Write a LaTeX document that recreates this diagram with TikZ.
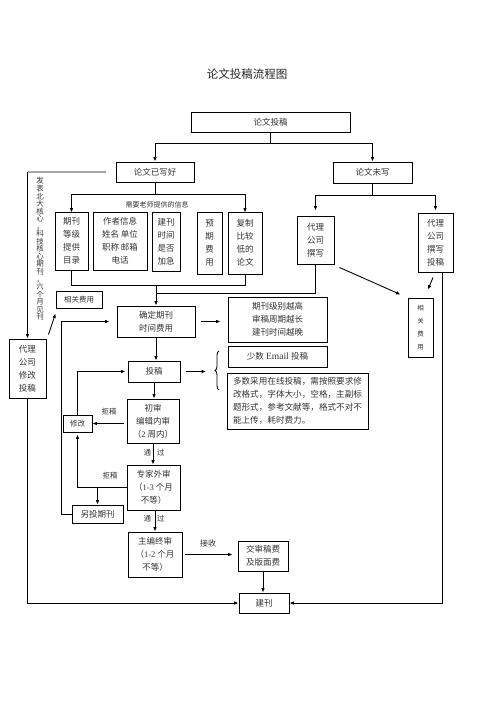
\documentclass[tikz,border=0pt]{standalone}
\usepackage{fontspec}
\setmainfont{Noto Sans CJK SC}
\newfontfamily\latf{Liberation Serif}
\usetikzlibrary{arrows.meta,decorations.pathreplacing}
\begin{document}
\begin{tikzpicture}[x=1pt,y=-1pt,line width=0.9pt,
  box/.style={draw, inner sep=0pt, align=center, text=black!80, font=\fontsize{8.5}{13}\selectfont},
  sbox/.style={box, font=\fontsize{7.5}{9}\selectfont},
  lbl/.style={inner sep=0pt, text=black!80, font=\fontsize{7.5}{9}\selectfont},
  arr/.style={-{Latex[length=4.5pt,width=3.6pt]}}
]
\useasboundingbox (0,0) rectangle (496,702);

% title
\node[text=black!85, font=\fontsize{11.5}{14}\selectfont] (title) at (247,74) {论文投稿流程图};

% nodes
\node[box, minimum width=159, minimum height=20] (tg) at (270.5,122) {论文投稿};
\node[box, minimum width=78, minimum height=20] (yx) at (155,172) {论文已写好};
\node[box, minimum width=79, minimum height=21] (wx) at (372.5,172.5) {论文未写};

\node[lbl, font=\fontsize{7}{9}\selectfont] (need) at (157,205) {需要老师提供的信息};

\node[box, minimum width=33, minimum height=58] (b1) at (71.5,241) {期刊\\等级\\提供\\目录};
\node[box, minimum width=54, minimum height=58] (b2) at (120,241) {作者信息\\姓名 单位\\职称 邮箱\\电话};
\node[box, minimum width=28, minimum height=59] (b3) at (166,241.5) {建刊\\时间\\是否\\加急};
\node[box, minimum width=25, minimum height=62] (b4) at (209.5,243) {预\\期\\费\\用};
\node[box, minimum width=34, minimum height=62] (b5) at (245,243) {复制\\比较\\低的\\论文};

\node[box, minimum width=37, minimum height=48] (w1) at (315.5,240) {代理\\公司\\撰写};
\node[box, minimum width=35, minimum height=59] (w2) at (435.5,242.5) {代理\\公司\\撰写\\投稿};
\node[box, minimum width=25, minimum height=59, font=\fontsize{6.5}{13}\selectfont] (fy2) at (420.5,327.5) {相\\关\\费\\用};

\node[sbox, minimum width=46, minimum height=17] (fy1) at (79,299.5) {相关费用};
\node[box, minimum width=78, minimum height=31] (qd) at (156,321.5) {确定期刊\\时间费用};
\node[box, minimum width=99, minimum height=45] (jb) at (277.5,319.5) {期刊级别越高\\审稿周期越长\\建刊时间越晚};
\node[box, minimum width=99, minimum height=21] (em) at (277.5,356.5) {少数{\latf\fontsize{9.5}{12}\selectfont\ Email }投稿};
\node[box, minimum width=141, minimum height=56, align=left, font=\fontsize{8.6}{12.8}\selectfont] (ds) at (297.5,401)
  {多数采用在线投稿，需按照要求修\\改格式，字体大小，空格，主副标\\题形式，参考文献等，格式不对不\\能上传，耗时费力。};

\node[box, minimum width=52, minimum height=21] (tgo) at (154,371.5) {投稿};
\node[box, minimum width=52, minimum height=44] (cs) at (153,421) {初审\\编辑内审\\（{\latf 2} 周内）};
\node[sbox, minimum width=29, minimum height=17] (xg) at (77.5,423.5) {修改};
\node[box, minimum width=53, minimum height=45] (zj) at (153.5,487.5) {专家外审\\（{\latf 1-3} 个月\\不等）};
\node[box, minimum width=51, minimum height=18] (lt) at (97.5,514) {另投期刊};
\node[box, minimum width=54, minimum height=45] (zb) at (155,554.5) {主编终审\\（{\latf 1-2} 个月\\不等）};
\node[box, minimum width=50, minimum height=30] (jf) at (263,556) {交审稿费\\及版面费};
\node[box, minimum width=50, minimum height=20] (jk) at (264,603) {建刊};

\node[box, minimum width=37, minimum height=59] (dl) at (27.5,368.5) {代理\\公司\\修改\\投稿};

\node[lbl, align=center, font=\fontsize{7.5}{7.55}\selectfont] (vt) at (40,249)
  {发\\表\\北\\大\\核\\心\\，\\科\\技\\核\\心\\期\\刊\\，\\六\\个\\月\\见\\刊};

% labels
\node[lbl] (rj1) at (109,412) {拒稿};
\node[lbl] (rj2) at (110,476) {拒稿};
\node[lbl] (tg1) at (154,453) {通\hspace{6pt}过};
\node[lbl] (tg2) at (154,519) {通\hspace{6pt}过};
\node[lbl, font=\fontsize{8}{10}\selectfont] (js) at (208,543) {接收};

% connectors top
\coordinate (r1) at (0,143);
\draw (tg.south) -- (tg.south |- r1);
\draw (yx.north |- r1) -- (wx.north |- r1);
\draw[arr] (yx.north |- r1) -- (yx.north);
\draw[arr] (wx.north |- r1) -- (wx.north);

\coordinate (r2) at (0,194);
\draw (yx.south) -- (yx.south |- r2);
\draw (b1.north |- r2) -- (b5.north |- r2);
\draw[arr] (b1.north |- r2) -- ([yshift=-1pt]b1.north);
\draw[arr] (b5.north |- r2) -- ([yshift=-1pt]b5.north);

\coordinate (r2b) at (0,195);
\draw (wx.south) -- (wx.south |- r2b);
\draw (w1.north |- r2b) -- (w2.north |- r2b);
\draw[arr, shorten >=5pt] (w1.north |- r2b) -- (w1.north);
\draw[arr, shorten >=2pt] (w2.north |- r2b) -- (w2.north);

% gather to qd
\coordinate (r3) at (0,285);
\draw (b1.south) -- (b1.south |- r3) -| (b5.south);
\draw[arr] (qd.north |- r3) -- (qd.north);
\coordinate (r4) at (0,293);
\draw (w1.south) -- (w1.south |- r4) -- (qd.north |- r4);

% right side
\draw[arr] ([shift={(5,3)}]w1.south east) -- ([shift={(-7,-3)}]fy2.north west);
\draw[arr] ([shift={(-2.5,5)}]w2.south) -- ([shift={(7.5,-8)}]fy2.north);
\draw[arr] ([xshift=6.5pt]w2.south) |- (jk.east);

% middle column
\draw[arr, shorten <=6pt, shorten >=7pt] (qd.east) -- (qd.east -| jb.west);
\draw[arr] (qd.south) -- (qd.south |- tgo.north);
\draw[decorate, decoration={brace, amplitude=4pt}] (219,390) -- (219,351);
\coordinate (brt) at (206,371.5);
\draw[arr, shorten <=6pt] (tgo.east) -- (brt);
\draw[arr] (tgo.south) -- (tgo.south |- cs.north);
\draw[arr, shorten <=3pt] (xg.east -| cs.west) -- (xg.east);
\draw[arr, shorten >=2pt] (xg.north) |- (tgo.west);
\draw[arr] (cs.south) -- (cs.south |- zj.north);
\draw[arr, shorten >=2pt] (zj.west) -| (xg.south);
\draw[arr] (lt.north |- zj.west) -- (lt.north);
\coordinate (c61) at (61,0);
\draw[arr, shorten >=7pt] (lt.west) -- (lt.west -| c61) |- (qd.west);
\draw[arr] ([xshift=1.5pt]zj.south) -- ([xshift=1.5pt]zj.south |- zb.north);
\draw[arr, shorten <=3pt, shorten >=5pt] (zb.east) -- (zb.east -| jf.west);
\draw[arr] (jf.south) -- (jf.south |- jk.north);

% left side
\coordinate (tl) at (106,172);
\draw[gray!70, line width=1.6pt] (tl) -- (tl -| dl.north);
\draw[arr] (tl -| dl.north) -- (dl.north);
\draw[arr] (dl.south) |- (jk.west);
\draw[arr] ([shift={(2,-4)}]dl.north east) -- ([shift={(0,5)}]fy1.south west);
\end{tikzpicture}
\end{document}
